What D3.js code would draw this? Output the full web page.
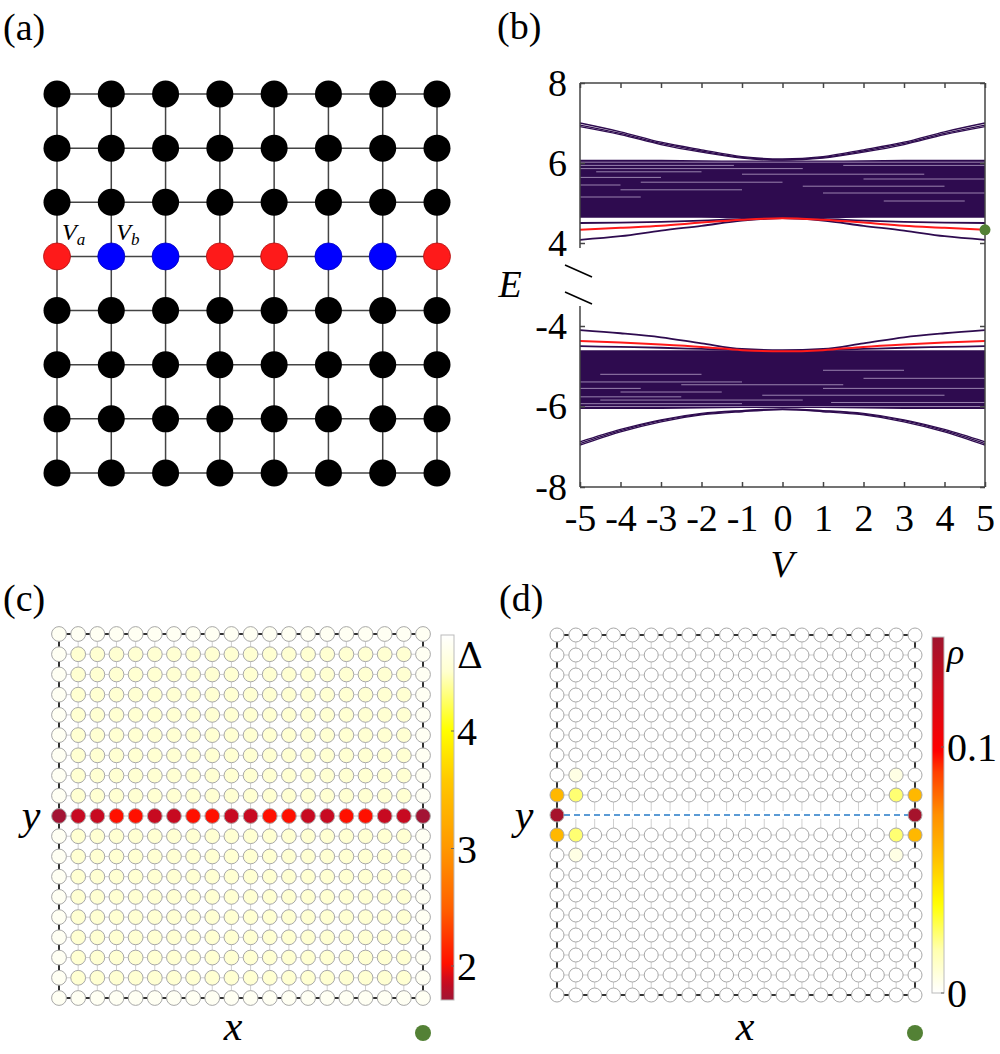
<!DOCTYPE html>
<html>
<head>
<meta charset="utf-8">
<script src="https://cdn.jsdelivr.net/npm/d3@7"></script>
<style>
  body { margin: 0; background: #fff; }
  svg { display: block; }
</style>
</head>
<body>
<svg id="fig" width="1000" height="1054"></svg>
<script>
// ---------- data ----------
// (a) small lattice, the middle chain alternates a/b sites
const latticeN = 8;
const chainRowA = 3;
const chainSites = ["a", "b", "b", "a", "a", "b", "b", "a"];

// (b) spectrum E(V), read at V = -5..5
const vTicks = [-5, -4, -3, -2, -1, 0, 1, 2, 3, 4, 5];
const eTicksUp = [4, 6, 8];
const eTicksDn = [-8, -6, -4];
const upBandTop = [6.08, 6.08, 6.08, 6.07, 6.06, 6.06, 6.06, 6.07, 6.08, 6.08, 6.08];
const upBandBot = [4.63, 4.63, 4.63, 4.63, 4.62, 4.62, 4.62, 4.63, 4.63, 4.63, 4.63];
const dnBandTop = [-4.6, -4.6, -4.6, -4.6, -4.6, -4.6, -4.6, -4.6, -4.6, -4.6, -4.6];
const dnBandBot = [-6.06, -6.06, -6.06, -6.05, -6.04, -6.04, -6.04, -6.05, -6.06, -6.06, -6.06];
const upOuter1 = [7.0, 6.78, 6.52, 6.33, 6.16, 6.1, 6.16, 6.33, 6.52, 6.78, 7.0];
const upOuter2 = [6.95, 6.74, 6.49, 6.3, 6.14, 6.08, 6.14, 6.3, 6.49, 6.74, 6.95];
const upOuter3 = [6.91, 6.71, 6.46, 6.27, 6.12, 6.07, 6.12, 6.27, 6.46, 6.71, 6.91];
const upEdgeLow = [4.08, 4.17, 4.31, 4.43, 4.56, 4.62, 4.56, 4.43, 4.31, 4.17, 4.08];
const upEdgeRed = [4.33, 4.38, 4.43, 4.51, 4.58, 4.62, 4.58, 4.51, 4.43, 4.38, 4.33];
const upEdgeFlat = [4.5, 4.51, 4.53, 4.56, 4.6, 4.62, 4.6, 4.56, 4.53, 4.51, 4.5];
const dnOuter1 = [-6.96, -6.63, -6.38, -6.21, -6.13, -6.08, -6.13, -6.21, -6.38, -6.63, -6.96];
const dnOuter2 = [-6.92, -6.6, -6.35, -6.19, -6.11, -6.07, -6.11, -6.19, -6.35, -6.6, -6.92];
const dnOuter3 = [-6.88, -6.57, -6.33, -6.17, -6.1, -6.06, -6.1, -6.17, -6.33, -6.57, -6.88];
const dnEdgeHigh = [-4.1, -4.18, -4.28, -4.43, -4.57, -4.6, -4.57, -4.43, -4.28, -4.18, -4.1];
const dnEdgeRed = [-4.37, -4.41, -4.46, -4.52, -4.6, -4.63, -4.6, -4.52, -4.46, -4.41, -4.37];
const dnEdgeFlat = [-4.5, -4.52, -4.54, -4.57, -4.6, -4.62, -4.6, -4.57, -4.54, -4.52, -4.5];
// lighter gaps inside the dense bands: [E, V from, V to]
const upGaps = [[6.02, -5, 5], [5.94, -5, -1.2], [5.94, 1.5, 5], [5.86, -5, 0.5], [5.78, -4.6, -2],
  [5.72, -1, 3.5], [5.64, -5, -3], [5.6, 2, 5], [5.52, -3.5, 0], [5.45, -5, -4], [5.42, 0.5, 4],
  [5.33, -4, -1], [5.25, 1, 5], [5.15, -5, -3.5], [5.05, 2.5, 4.5]];
const dnGaps = [[-6.0, -5, 5], [-5.93, -5, -1], [-5.9, 1.2, 5], [-5.84, -4.5, 0.5], [-5.76, -5, -2.5],
  [-5.72, -0.5, 4], [-5.64, -4, -1.5], [-5.55, -5, -3.5], [-5.55, 1, 5], [-5.46, -2.5, 1.5],
  [-5.39, -5, -1], [-5.3, 2, 5], [-5.2, -4.5, -2], [-5.1, 1, 3]];
const markE = 4.33;

// (c) gap map Delta on the 20 x 19 lattice
const colsC = 20, rowsC = 19, chainRowC = 9;
const deltaRing = 4.74;
const deltaBulk = 4.52;
const deltaChain = [1.72, 1.86, 1.86, 2.02, 2.02, 1.86, 1.86, 2.02, 2.02, 1.86,
  1.86, 2.02, 2.02, 1.86, 1.86, 2.02, 2.02, 1.86, 1.86, 1.72];
const deltaTicks = [2, 3, 4];
const deltaRange = [1.71, 4.82];

// (d) density rho of the in-gap state
const rhoRows = [7, 8, 9, 10, 11];
const rhoOuterCol = [0.0, 0.058, 0.142, 0.058, 0.0];
const rhoInnerCol = [0.006, 0.024, 0.0, 0.024, 0.006];
const rhoTicks = [0, 0.1];
const rhoRange = [0, 0.1447];

// colour maps (fraction 0 = white end)
const cmapC = ["#ffffff", "#ffffd0", "#ffff00", "#ffc800", "#ff9900", "#ff6000", "#ff1000", "#c80a20", "#a01535"];
const cmapCStops = [0, 0.1, 0.26, 0.4, 0.58, 0.75, 0.9, 0.95, 1];
const cmapD = ["#ffffff", "#ffffb0", "#ffff00", "#ffc000", "#ff9000", "#ff4000", "#ff0000", "#d00a1a", "#a0142e"];
const cmapDStops = [0, 0.12, 0.25, 0.38, 0.5, 0.62, 0.68, 0.85, 1];

const green = "#538135";
const bandColor = "#2e0b4f";
const serif = "Liberation Serif";

const svg = d3.select("#fig");

// text helper: always serif
function label(g, x, y, s, size, italic) {
  return g.append("text").attr("x", x).attr("y", y)
    .attr("font-family", serif).attr("font-size", size)
    .attr("font-style", italic ? "italic" : "normal").attr("fill", "#000").text(s);
}

// ---------- panel labels ----------
[["(a)", 3, 40], ["(b)", 497, 39], ["(c)", 3, 611], ["(d)", 499, 611]].forEach(p => {
  label(svg, p[1], p[2], p[0], 38, false);
});

// ---------- (a) ----------
(function () {
  const x = d3.scaleLinear().domain([0, latticeN - 1]).range([57, 437]);
  const y = d3.scaleLinear().domain([0, latticeN - 1]).range([94, 473]);
  const g = svg.append("g");
  const idx = d3.range(latticeN);
  idx.forEach(i => {
    g.append("line").attr("x1", x(0)).attr("x2", x(latticeN - 1)).attr("y1", y(i)).attr("y2", y(i))
      .attr("stroke", "#444").attr("stroke-width", 1.5);
    g.append("line").attr("y1", y(0)).attr("y2", y(latticeN - 1)).attr("x1", x(i)).attr("x2", x(i))
      .attr("stroke", "#444").attr("stroke-width", 1.5);
  });
  const nodes = d3.cross(idx, idx).map(([r, c]) => ({ r, c }));
  g.selectAll("circle").data(nodes).join("circle")
    .attr("cx", d => x(d.c)).attr("cy", d => y(d.r)).attr("r", 13.5)
    .attr("fill", d => d.r !== chainRowA ? "#000" : (chainSites[d.c] === "a" ? "#fe1a1a" : "#0000ff"))
    .attr("stroke", d => d.r !== chainRowA ? "none" : (chainSites[d.c] === "a" ? "#b01010" : "#0000c0"))
    .attr("stroke-width", 0.8);
  [["a", 0], ["b", 1]].forEach(([s, c]) => {
    const t = label(g, x(c) + 5, y(chainRowA) - 16, "", 24, true);
    t.append("tspan").text("V");
    t.append("tspan").attr("font-size", 17).attr("dy", 5).text(s);
  });
})();

// ---------- (b) ----------
(function () {
  const x = d3.scaleLinear().domain([-5, 5]).range([580, 985]);
  const yUp = d3.scaleLinear().domain([4, 8]).range([243, 83]);
  const yDn = d3.scaleLinear().domain([-8, -4]).range([487, 326]);
  const g = svg.append("g");

  function half(y, bandTop, bandBot, gaps, outers, darkEdges, redEdge) {
    const area = d3.area().x((d, i) => x(vTicks[i])).y0((d, i) => y(bandBot[i])).y1(d => y(d))
      .curve(d3.curveMonotoneX);
    g.append("path").datum(bandTop).attr("d", area).attr("fill", bandColor);
    gaps.forEach(gp => {
      g.append("line").attr("x1", x(gp[1])).attr("x2", x(gp[2])).attr("y1", y(gp[0])).attr("y2", y(gp[0]))
        .attr("stroke", "rgba(225,212,238,0.6)").attr("stroke-width", 1);
    });
    const line = d3.line().x((d, i) => x(vTicks[i])).y(d => y(d)).curve(d3.curveMonotoneX);
    outers.forEach(arr => {
      g.append("path").datum(arr).attr("d", line).attr("fill", "none")
        .attr("stroke", bandColor).attr("stroke-width", 1.3);
    });
    darkEdges.forEach(arr => {
      g.append("path").datum(arr).attr("d", line).attr("fill", "none")
        .attr("stroke", bandColor).attr("stroke-width", 1.8);
    });
    g.append("path").datum(redEdge).attr("d", line).attr("fill", "none")
      .attr("stroke", "#ff1a1a").attr("stroke-width", 2);
  }
  half(yUp, upBandTop, upBandBot, upGaps, [upOuter1, upOuter2, upOuter3], [upEdgeLow, upEdgeFlat], upEdgeRed);
  half(yDn, dnBandTop, dnBandBot, dnGaps, [dnOuter1, dnOuter2, dnOuter3], [dnEdgeHigh, dnEdgeFlat], dnEdgeRed);

  const axStyle = sel => {
    sel.attr("font-family", serif);
    sel.selectAll("path,line").attr("stroke", "#444").attr("stroke-width", 1.5);
    sel.selectAll("text").attr("font-size", 38).attr("fill", "#000").attr("font-family", serif);
  };
  const fmt = d => d < 0 ? "-" + Math.abs(d) : String(d);
  g.append("g").attr("transform", "translate(0,487)")
    .call(d3.axisBottom(x).tickValues(vTicks).tickFormat(fmt).tickSizeInner(-5).tickSizeOuter(0).tickPadding(17))
    .call(axStyle).select(".domain").remove();
  g.append("g").attr("transform", "translate(0,83)")
    .call(d3.axisTop(x).tickValues(vTicks).tickFormat("").tickSizeInner(-5).tickSizeOuter(0))
    .call(axStyle).select(".domain").remove();
  [[yUp, eTicksUp], [yDn, eTicksDn]].forEach(([y, t]) => {
    g.append("g").attr("transform", "translate(580,0)")
      .call(d3.axisLeft(y).tickValues(t).tickFormat(fmt).tickSizeInner(-5).tickSizeOuter(0).tickPadding(13))
      .call(axStyle).select(".domain").remove();
    g.append("g").attr("transform", "translate(985,0)")
      .call(d3.axisRight(y).tickValues(t).tickFormat("").tickSizeInner(-5).tickSizeOuter(0))
      .call(axStyle).select(".domain").remove();
  });
  // frame with a broken left edge
  const frame = [
    [580, 83, 985, 83], [985, 83, 985, 487], [580, 487, 985, 487],
    [580, 83, 580, 248], [580, 306, 580, 487]
  ];
  frame.forEach(f => g.append("line").attr("x1", f[0]).attr("y1", f[1]).attr("x2", f[2]).attr("y2", f[3])
    .attr("stroke", "#444").attr("stroke-width", 1.5));
  [[565, 265, 592, 277], [565, 292, 592, 304]].forEach(f =>
    g.append("line").attr("x1", f[0]).attr("y1", f[1]).attr("x2", f[2]).attr("y2", f[3])
      .attr("stroke", "#000").attr("stroke-width", 1.6));
  g.append("circle").attr("cx", x(5)).attr("cy", yUp(markE)).attr("r", 5.5).attr("fill", green);
  label(g, 510, 297, "E", 38, true).attr("text-anchor", "middle");
  label(g, 782, 577, "V", 38, true).attr("text-anchor", "middle");
})();

// ---------- lattice maps (c) and (d) ----------
function latticeMap(opts) {
  const g = svg.append("g");
  const x = d3.scaleLinear().domain([0, opts.cols - 1]).range(opts.xr);
  const y = d3.scaleLinear().domain([0, opts.rows - 1]).range(opts.yr);
  const onRing = (r, c) => r === 0 || c === 0 || r === opts.rows - 1 || c === opts.cols - 1;
  // links
  for (let r = 0; r < opts.rows; r++) {
    for (let c = 0; c < opts.cols - 1; c++) {
      const ring = r === 0 || r === opts.rows - 1;
      g.append("line").attr("x1", x(c)).attr("x2", x(c + 1)).attr("y1", y(r)).attr("y2", y(r))
        .attr("stroke", ring ? "#333" : "#cfcfcf").attr("stroke-width", ring ? 2 : 1);
    }
  }
  for (let c = 0; c < opts.cols; c++) {
    for (let r = 0; r < opts.rows - 1; r++) {
      const ring = c === 0 || c === opts.cols - 1;
      g.append("line").attr("y1", y(r)).attr("y2", y(r + 1)).attr("x1", x(c)).attr("x2", x(c))
        .attr("stroke", ring ? "#333" : "#cfcfcf").attr("stroke-width", ring ? 2 : 1);
    }
  }
  if (opts.dashRow !== undefined) {
    g.append("line").attr("x1", x(0)).attr("x2", x(opts.cols - 1)).attr("y1", y(opts.dashRow)).attr("y2", y(opts.dashRow))
      .attr("stroke", "#ffffff").attr("stroke-width", 8);
  }
  const nodes = d3.cross(d3.range(opts.rows), d3.range(opts.cols)).map(([r, c]) => ({ r, c, v: opts.value(r, c, onRing(r, c)) }))
    .filter(d => d.v !== null);
  g.selectAll("circle").data(nodes).join("circle")
    .attr("cx", d => x(d.c)).attr("cy", d => y(d.r)).attr("r", opts.radius)
    .attr("fill", d => opts.color(d.v))
    .attr("stroke", "#a8a8a8").attr("stroke-width", 1);
  if (opts.dashRow !== undefined) {
    g.append("line").attr("x1", x(0) + opts.radius).attr("x2", x(opts.cols - 1) - opts.radius)
      .attr("y1", y(opts.dashRow)).attr("y2", y(opts.dashRow))
      .attr("stroke", "#5b9bd5").attr("stroke-width", 2).attr("stroke-dasharray", "6,4");
  }
  // colour bar
  const cb = opts.bar;
  const defs = svg.append("defs");
  const grad = defs.append("linearGradient").attr("id", cb.id).attr("x1", 0).attr("x2", 0).attr("y1", 0).attr("y2", 1);
  d3.range(0, 1.0001, 0.02).forEach(t => {
    grad.append("stop").attr("offset", t).attr("stop-color", opts.color(cb.scale.invert(cb.y0 + t * (cb.y1 - cb.y0))));
  });
  g.append("rect").attr("x", cb.x).attr("y", cb.y0).attr("width", cb.w).attr("height", cb.y1 - cb.y0)
    .attr("fill", `url(#${cb.id})`).attr("stroke", "#bbb").attr("stroke-width", 1);
  cb.ticks.forEach(t => {
    const ty = cb.scale(t);
    g.append("line").attr("x1", cb.x + cb.w - 3).attr("x2", cb.x + cb.w).attr("y1", ty).attr("y2", ty)
      .attr("stroke", "#666").attr("stroke-width", 1);
    label(g, cb.x + cb.w + 3, ty + 14, t, 40, false);
  });
  label(g, cb.x + cb.w + 3, cb.labelY, cb.label, 36, cb.italic).attr("font-family", cb.font);
  label(g, opts.yLabelX, 829, "y", 42, true).attr("text-anchor", "middle");
  label(g, opts.xLabelX, 1040, "x", 42, true).attr("text-anchor", "middle");
  g.append("circle").attr("cx", x(opts.cols - 1)).attr("cy", 1033).attr("r", 8).attr("fill", green);
}

// (c)
const deltaScaleBar = d3.scaleLinear().domain([4, 2]).range([731, 966]);
const deltaFrac = d3.scaleLinear().domain([deltaRange[1], deltaRange[0]]).range([0, 1]);
const deltaColor = v => d3.scaleLinear().domain(cmapCStops).range(cmapC).clamp(true)(deltaFrac(v));
latticeMap({
  cols: colsC, rows: rowsC, xr: [59, 423], yr: [634, 998], radius: 7.4,
  value: (r, c, ring) => r === chainRowC ? deltaChain[c] : (ring ? deltaRing : deltaBulk),
  color: deltaColor,
  yLabelX: 31, xLabelX: 233,
  bar: { id: "cbC", x: 441, w: 13, y0: 635, y1: 1000, scale: deltaScaleBar, ticks: deltaTicks,
    label: "Δ", labelY: 668, italic: false, font: "DejaVu Serif" }
});

// (d)
const rhoScaleBar = d3.scaleLinear().domain([0, 0.1]).range([993, 747]);
const rhoFrac = d3.scaleLinear().domain(rhoRange).range([0, 1]);
const rhoColor = v => d3.scaleLinear().domain(cmapDStops).range(cmapD).clamp(true)(rhoFrac(v));
latticeMap({
  cols: colsC, rows: rowsC, xr: [557, 915], yr: [635, 995], radius: 7,
  value: (r, c) => {
    const k = rhoRows.indexOf(r);
    const edge = c === 0 || c === colsC - 1;
    const inner = c === 1 || c === colsC - 2;
    if (r === chainRowC && !edge) return null;
    if (k >= 0 && edge) return rhoOuterCol[k];
    if (k >= 0 && inner) return rhoInnerCol[k];
    return 0;
  },
  color: rhoColor,
  dashRow: chainRowC,
  yLabelX: 524, xLabelX: 745,
  bar: { id: "cbD", x: 932, w: 12, y0: 637, y1: 993, scale: rhoScaleBar, ticks: rhoTicks,
    label: "ρ", labelY: 664, italic: true, font: serif }
});
</script>
</body>
</html>
